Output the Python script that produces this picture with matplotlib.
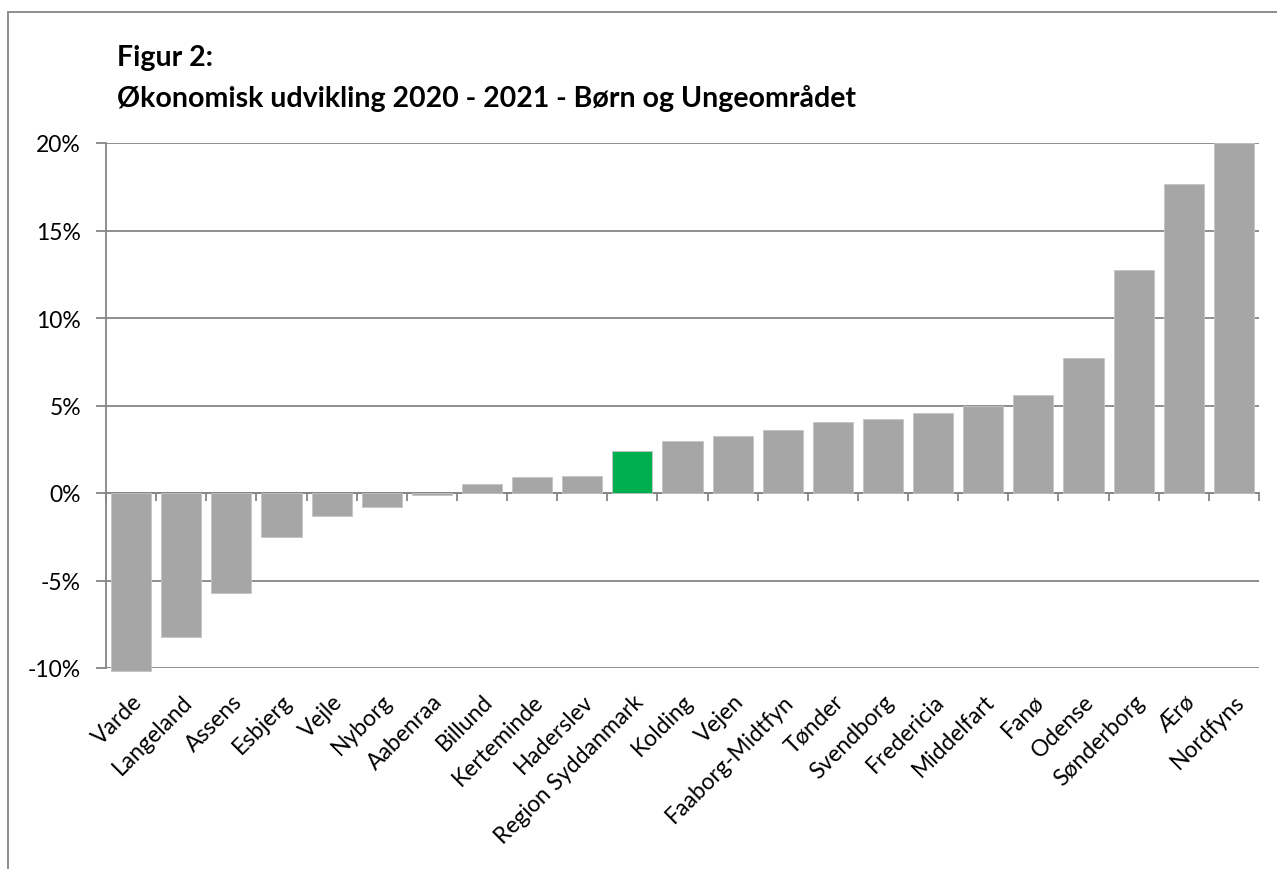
import matplotlib
matplotlib.use("Agg")
import matplotlib.pyplot as plt
from matplotlib.patches import Rectangle
from matplotlib.ticker import FuncFormatter
import numpy as np

# Kommuner sorteret efter udvikling (procent)
kommuner = ['Varde', 'Langeland', 'Assens', 'Esbjerg', 'Vejle', 'Nyborg', 'Aabenraa',
            'Billund', 'Kerteminde', 'Haderslev', 'Region Syddanmark', 'Kolding', 'Vejen',
            'Faaborg-Midtfyn', 'Tønder', 'Svendborg', 'Fredericia', 'Middelfart', 'Fanø',
            'Odense', 'Sønderborg', 'Ærø', 'Nordfyns']
udvikling = [-10.15, -8.2, -5.7, -2.5, -1.3, -0.8, -0.1,
             0.5, 0.9, 0.95, 2.4, 3.0, 3.25,
             3.6, 4.05, 4.25, 4.6, 5.0, 5.6,
             7.7, 12.75, 17.65, 20.0]
fremhaev = 'Region Syddanmark'

plt.rcParams['font.family'] = ['Lato', 'DejaVu Sans']

graa = '#A6A6A6'
groen = '#00B050'
linje = '#868686'

fig = plt.figure(figsize=(12.77, 8.70), dpi=100)
ax = fig.add_axes([106 / 1277, 1 - 669 / 870, (1259 - 106) / 1277, (669 - 144) / 870])

x = np.arange(len(kommuner))
farver = [groen if k == fremhaev else graa for k in kommuner]
ax.bar(x, udvikling, width=0.8, color=farver, edgecolor='#C4C4C4', linewidth=0.6,
       zorder=3, clip_on=False)

ax.set_xlim(-0.5, len(kommuner) - 0.5)
ax.set_ylim(-10, 20)
ax.set_yticks(np.arange(-10, 21, 5))
ax.yaxis.set_major_formatter(FuncFormatter(lambda v, p: f'{v:.0f}%'))
ax.grid(axis='y', color=linje, linewidth=1.3, zorder=0)
ax.set_axisbelow(True)

for side in ['top', 'right', 'bottom']:
    ax.spines[side].set_visible(False)
ax.spines['left'].set_color(linje)
ax.spines['left'].set_linewidth(1.3)
ax.tick_params(axis='y', direction='out', length=7, width=1.3, color=linje,
               labelsize=16.5, pad=11)

# kategorinavne nederst i plotområdet
ax.set_xticks(x)
ax.set_xticklabels(kommuner, rotation=45, ha='right', va='top', rotation_mode='anchor',
                   fontsize=16.5)
ax.tick_params(axis='x', length=0, pad=16)

# x-aksen ved 0 % med mærker mellem kategorierne
nul = ax.secondary_xaxis(1 / 3)
nul.spines['bottom'].set_color(linje)
nul.spines['bottom'].set_linewidth(1.3)
nul.set_xticks(np.arange(-0.5, len(kommuner), 1))
nul.set_xticklabels([])
nul.tick_params(direction='out', length=6, width=1.3, color=linje)

fig.text(117 / 1277, 1 - 58 / 870, 'Figur 2:', fontsize=20.5, fontweight='bold', va='center')
fig.text(117 / 1277, 1 - 98 / 870, 'Økonomisk udvikling 2020 - 2021 - Børn og Ungeområdet',
         fontsize=20.5, fontweight='bold', va='center')

# ramme om diagrammet
fig.patches.append(Rectangle((8 / 1277, -0.05), 1.1, 1 - 13 / 870 + 0.05,
                             transform=fig.transFigure, fill=False,
                             edgecolor=linje, linewidth=1.3))

fig.savefig('out.png', dpi=100, facecolor='white')
